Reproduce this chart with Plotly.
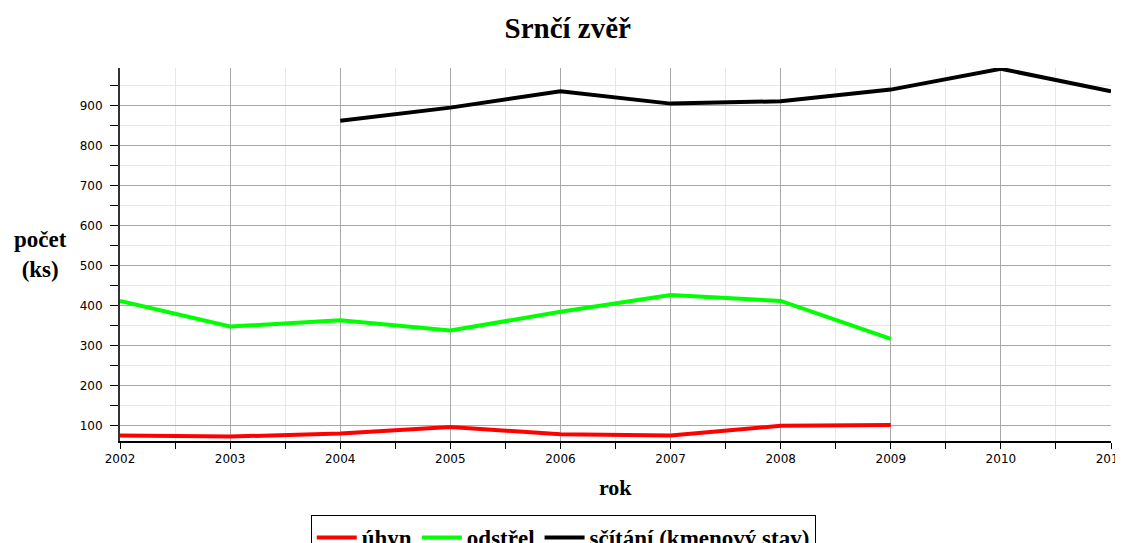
import plotly.graph_objects as go

# data
years = [2002, 2003, 2004, 2005, 2006, 2007, 2008, 2009, 2010, 2011]
uhyn = [76, 73, 81, 97, 79, 76, 100, 102, None, None]
odstrel = [412, 348, 364, 338, 385, 427, 412, 317, None, None]
scitani = [None, None, 862, 895, 936, 905, 911, 940, 992, 936]

series = [
    ("úhyn", uhyn, "#ff0000"),
    ("odstřel", odstrel, "#00ff00"),
    ("sčítání (kmenový stav)", scitani, "#000000"),
]

SERIF = "Liberation Serif, Times New Roman, serif"
TICKFONT = dict(family="DejaVu Sans, Tahoma, sans-serif", size=12, color="#000000")

# page body has an 8px margin, so the figure is made 8px smaller
W, H = 1115, 535

fig = go.Figure()
for name, vals, color in series:
    fig.add_trace(go.Scatter(
        x=years, y=vals, name=f"<b>{name}</b>", mode="lines",
        line=dict(color=color, width=4), connectgaps=False,
    ))

fig.update_layout(
    width=W, height=H,
    margin=dict(l=112, r=12, t=60, b=102, autoexpand=False),
    paper_bgcolor="white", plot_bgcolor="white",
    title=dict(text="<b>Srnčí zvěř</b>", x=0.502, xanchor="center", y=1 - 20 / H, yanchor="middle",
               font=dict(family=SERIF, size=29, color="#000000")),
    legend=dict(
        orientation="h", xref="container", yref="container",
        x=0.498, xanchor="center", y=1 - 507 / H, yanchor="top",
        bordercolor="#000000", borderwidth=1,
        font=dict(family=SERIF, size=23, color="#000000"),
        itemwidth=40, tracegroupgap=0,
    ),
)

fig.update_xaxes(
    range=[2002, 2011], dtick=1, tick0=2002, automargin=False,
    showline=True, linecolor="#000000", linewidth=2,
    ticks="outside", ticklen=6, tickcolor="#000000",
    showgrid=True, gridcolor="#a8a8a8", gridwidth=1,
    tickfont=TICKFONT, zeroline=False, ticklabeloverflow="allow",
    minor=dict(dtick=0.5, ticks="outside", ticklen=6, tickcolor="#000000",
               showgrid=True, gridcolor="#e8e8e8"),
)
fig.update_yaxes(
    range=[62, 994], dtick=100, tick0=0, automargin=False,
    showline=True, linecolor="#333333", linewidth=2,
    ticks="outside", ticklen=8, tickcolor="#000000", ticklabelstandoff=5,
    showgrid=True, gridcolor="#a8a8a8", gridwidth=1,
    tickfont=TICKFONT, zeroline=False,
    minor=dict(dtick=50, ticks="outside", ticklen=8, tickcolor="#000000",
               showgrid=True, gridcolor="#e8e8e8"),
)

fig.add_annotation(
    text="<b>počet<br>(ks)</b>", xref="paper", yref="paper",
    x=-0.0807, y=0.5, xanchor="center", yanchor="middle", showarrow=False,
    font=dict(family=SERIF, size=23, color="#000000"), align="center",
)
fig.add_annotation(
    text="<b>rok</b>", xref="paper", yref="paper",
    x=0.5, y=-0.124, xanchor="center", yanchor="middle", showarrow=False,
    font=dict(family=SERIF, size=22, color="#000000"),
)

fig.write_html("out.html")
